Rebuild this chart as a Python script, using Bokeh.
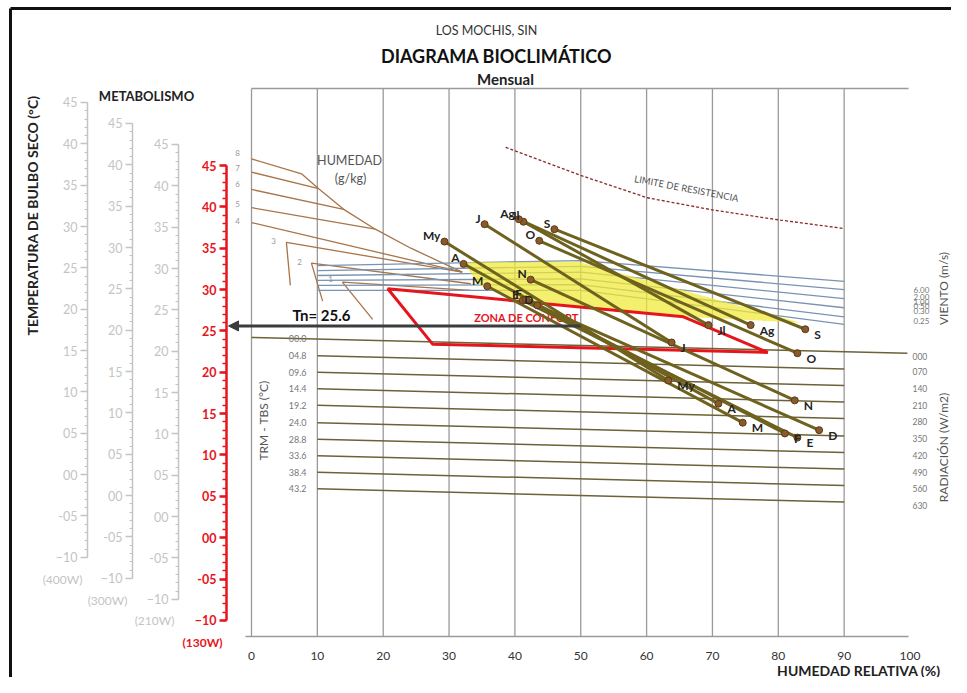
import numpy as np
from bokeh.plotting import figure
from bokeh.models import Range1d, LinearAxis, FixedTicker, Arrow, NormalHead
from bokeh.core.properties import value
from bokeh.embed import file_html
from bokeh.resources import INLINE

FONT = "Lato"

# ---------------- data ----------------
months = ["E", "F", "M", "A", "My", "J", "Jl", "Ag", "S", "O", "N", "D"]
hr_min = [41.2, 41.7, 35.8, 32.2, 29.3, 35.4, 41.3, 40.6, 46.0, 43.7, 42.4, 43.4]
t_max = [28.7, 28.8, 30.4, 33.1, 35.8, 37.9, 38.2, 38.5, 37.3, 35.9, 31.2, 28.1]
hr_max = [82.9, 81.0, 74.6, 70.9, 63.3, 63.8, 69.4, 75.8, 84.1, 82.9, 82.5, 86.2]
t_min = [12.1, 12.6, 13.9, 16.2, 19.0, 23.6, 25.7, 25.7, 25.2, 22.3, 16.6, 13.0]

tn = 25.6
tn_arrow_from_hr = 50.0

temp_ticks = list(range(-10, 50, 5))
temp_minor = list(range(-10, 46))
metab_labels = ["(400W)", "(300W)", "(210W)", "(130W)"]
rh_ticks = list(range(0, 110, 10))

comfort_hr = [20.7, 65.6, 78.4, 27.5]
comfort_t = [30.1, 26.7, 22.4, 23.4]

wind_zone_hr = [32.2, 49.5, 83.4, 65.6, 53.0, 39.3, 34.5]
wind_zone_t = [33.3, 33.4, 26.0, 26.7, 27.7, 28.9, 30.6]

limit_hr = [38.6, 50.0, 60.1, 70.2, 80.3, 89.8]
limit_t = [47.2, 43.8, 41.1, 39.6, 38.4, 37.4]

trm_labels = ["00.0", "04.8", "09.6", "14.4", "19.2", "24.0", "28.8", "33.6", "38.4", "43.2"]
rad_labels = ["000", "070", "140", "210", "280", "350", "420", "490", "560", "630"]
rad_hr_start = [0, 10, 10, 10, 10, 10, 10, 10, 10, 10]
rad_hr_end = [99.6, 90, 90, 90, 90, 90, 90, 90, 90, 90]
rad_t_start = [24.2, 22.0, 20.0, 18.0, 16.0, 13.9, 11.9, 9.9, 7.9, 5.9]
rad_t_end = [22.3, 20.4, 18.4, 16.4, 14.4, 12.3, 10.3, 8.3, 6.3, 4.3]

wind_labels = ["6.00", "2.00", "1.00", "0.50", "0.30", "0.25"]
wind_hr = [10, 50, 90]
wind_t = [
    [32.9, 33.5, 31.0],
    [32.3, 32.8, 30.0],
    [31.7, 32.1, 28.9],
    [31.1, 31.3, 27.8],
    [30.5, 30.6, 26.7],
    [29.9, 29.9, 25.8],
]

humid_labels = ["8", "7", "6", "5", "4", "3", "2", "1"]
humid_hr = [
    [0, 7.6, 10.2, 14.0, 18.8, 24.2, 32.0],
    [0, 10.2],
    [0, 14.0],
    [0, 18.8],
    [0, 32.0],
    [5.9, 5.3, 32.0],
    [10.8, 9.1, 33.3],
    [18.4, 13.8, 33.3],
]
humid_t = [
    [45.8, 44.0, 42.2, 39.7, 37.3, 35.0, 32.1],
    [44.2, 42.2],
    [42.1, 39.7],
    [39.9, 37.3],
    [38.1, 32.1],
    [30.5, 35.7, 32.1],
    [28.6, 33.2, 30.7],
    [26.4, 30.9, 29.9],
]

# ---------------- layout helpers (picture pixel -> chart coords) ----------------
def HX(px):
    return (px - 251) / 6.585


def TY(py):
    return 45 - (py - 165) / 8.27


W, H = 951, 677
STEP = 2.54  # vertical shift between metabolism scales (deg C)

p = figure(width=W, height=H, output_backend="svg", toolbar_location=None,
           x_range=Range1d(HX(0), HX(W)), y_range=Range1d(TY(H), TY(0)),
           x_axis_location=None, y_axis_location=None, min_border=0)
p.grid.visible = False
p.outline_line_color = None
p.background_fill_color = "white"

for k, nm in enumerate(["m400", "m300", "m210"]):
    shift = STEP * (3 - k)
    p.extra_y_ranges[nm] = Range1d(TY(H) - shift, TY(0) - shift)

# frame border (left and top sides)
p.segment(x0=[HX(10), HX(10)], y0=[TY(8), TY(8)], x1=[HX(10), HX(W)], y1=[TY(H), TY(8)],
          line_color="#111111", line_width=3)

# ---------------- grid frame ----------------
t_top, t_bot = TY(88), TY(636)
gx = list(range(0, 100, 10))
p.segment(x0=gx, y0=[t_bot] * len(gx), x1=gx, y1=[t_top] * len(gx), line_color="#9a9a9a", line_width=1.3)
p.segment(x0=[0], y0=[t_top], x1=[HX(908)], y1=[t_top], line_color="#9a9a9a", line_width=1.3)
p.segment(x0=[HX(245)], y0=[t_bot], x1=[HX(908)], y1=[t_bot], line_color="#9a9a9a", line_width=1.3)

# ---------------- radiation lines ----------------
p.segment(x0=rad_hr_start, y0=rad_t_start, x1=rad_hr_end, y1=rad_t_end, line_color="#6b6238", line_width=1.5)
lab_x = HX(306)
lab_y = [ts + (te - ts) * (lab_x - hs) / (he - hs) if hs < lab_x else ts
         for hs, he, ts, te in zip(rad_hr_start, rad_hr_end, rad_t_start, rad_t_end)]
p.text(x=[lab_x] * len(trm_labels), y=lab_y, text=trm_labels, text_font=value(FONT),
       text_font_size="9px", text_color="#777777", text_align="right", text_baseline="middle")
p.text(x=[HX(912)] * len(rad_labels), y=rad_t_end, text=rad_labels, text_font=value(FONT),
       text_font_size="8.5px", text_color="#777777", text_align="left", text_baseline="middle", y_offset=3)

# ---------------- humidity lines ----------------
p.multi_line(xs=humid_hr, ys=humid_t, line_color="#a87448", line_width=1.3)
humid_lab_px = [(237, 152), (237, 167), (237, 183), (237, 203), (237, 220), (273, 240), (299, 261), (330, 278)]
p.text(x=[HX(a) for a, b in humid_lab_px], y=[TY(b) for a, b in humid_lab_px], text=humid_labels,
       text_font=value(FONT), text_font_size="8px", text_color="#999999", text_align="center", text_baseline="middle")

# ---------------- wind lines & zone ----------------
p.multi_line(xs=[wind_hr] * len(wind_t), ys=wind_t, line_color="#7893b3", line_width=1.3)
p.patch(x=wind_zone_hr, y=wind_zone_t, fill_color="#f1e936", fill_alpha=0.72, line_color=None)
wind_lab_py = [289, 296, 301, 305, 310, 320]
p.text(x=[HX(913)] * len(wind_labels), y=[TY(v) for v in wind_lab_py], text=wind_labels,
       text_font=value(FONT), text_font_size="8px", text_color="#777777", text_align="left", text_baseline="middle")

# ---------------- comfort zone ----------------
p.patch(x=comfort_hr, y=comfort_t, fill_color=None, line_color="#e8141c", line_width=3)
p.text(x=[HX(526)], y=[TY(317)], text=["ZONA DE CONFORT"], text_font=value(FONT), text_font_size="11px",
       text_font_style="bold", text_color="#e8141c", text_align="center", text_baseline="middle")

# ---------------- limite de resistencia ----------------
p.line(limit_hr, limit_t, line_color="#8b2a2a", line_width=1.3, line_dash="3 2")
p.text(x=[HX(686)], y=[TY(188)], text=["LIMITE DE RESISTENCIA"], text_font=value(FONT), text_font_size="9.5px",
       text_color="#555555", text_align="center", text_baseline="middle", angle=-0.19)

# ---------------- Tn arrow ----------------
p.add_layout(Arrow(end=NormalHead(size=10, fill_color="#3c3c3c", line_color="#3c3c3c"),
                   x_start=tn_arrow_from_hr, y_start=tn, x_end=HX(228), y_end=tn,
                   line_color="#3c3c3c", line_width=3))
p.text(x=[HX(292)], y=[TY(314)], text=[f"Tn= {tn}"], text_font=value(FONT), text_font_size="15px",
       text_font_style="bold", text_color="#111111", text_align="left", text_baseline="middle")

# ---------------- monthly lines ----------------
p.segment(x0=hr_min, y0=t_max, x1=hr_max, y1=t_min, line_color="#6f621e", line_width=3)
p.scatter(x=hr_min + hr_max, y=t_max + t_min, size=7, fill_color="#8b5a2b", line_color="#5a3a18")
p.text(x=hr_min, y=t_max, text=months, text_font=value(FONT), text_font_size="12px", text_font_style="bold",
       text_color="#222222", text_align="right", text_baseline="middle", x_offset=-4, y_offset=-6)
p.text(x=hr_max, y=t_min, text=months, text_font=value(FONT), text_font_size="12px", text_font_style="bold",
       text_color="#222222", text_align="left", text_baseline="middle", x_offset=9, y_offset=5)

# ---------------- temperature / metabolism axes ----------------
axes_spec = [("m400", HX(87), "#c4c4c4", False),
             ("m300", HX(132), "#c4c4c4", False),
             ("m210", HX(178), "#c4c4c4", False),
             ("default", HX(226), "#e8141c", True)]
for nm, xloc, col, main in axes_spec:
    ax = LinearAxis(y_range_name=nm, fixed_location=xloc, bounds=(-10, 45),
                    ticker=FixedTicker(ticks=temp_ticks, minor_ticks=temp_minor),
                    major_label_overrides={5: "05", 0: "00", -5: "-05"})
    ax.axis_line_color = col
    ax.axis_line_width = 2.5 if main else 1.5
    ax.major_tick_line_color = col
    ax.major_tick_line_width = 2.5 if main else 1.5
    ax.major_tick_out = 7
    ax.major_tick_in = 0
    ax.minor_tick_line_color = col
    ax.minor_tick_line_width = 1.5 if main else 1
    ax.minor_tick_out = 4 if main else 3
    ax.minor_tick_in = 0
    ax.major_label_text_color = col
    ax.major_label_text_font = FONT
    ax.major_label_text_font_size = "12.5px"
    ax.major_label_text_font_style = "bold" if main else "normal"
    ax.major_label_standoff = 3
    p.add_layout(ax, "left")

metab_px = [(62, 579), (107, 600), (154, 620), (202, 642)]
p.text(x=[HX(a) for a, b in metab_px[:3]], y=[TY(b) for a, b in metab_px[:3]], text=metab_labels[:3],
       text_font=value(FONT), text_font_size="12px", text_color="#c4c4c4", text_align="center", text_baseline="middle")
p.text(x=[HX(metab_px[3][0])], y=[TY(metab_px[3][1])], text=metab_labels[3:], text_font=value(FONT),
       text_font_size="12px", text_font_style="bold", text_color="#e8141c", text_align="center", text_baseline="middle")

# ---------------- relative humidity axis ----------------
xax = LinearAxis(fixed_location=t_bot, bounds=(0, 100), ticker=FixedTicker(ticks=rh_ticks))
xax.axis_line_color = None
xax.major_tick_line_color = None
xax.minor_tick_line_color = None
xax.major_label_text_font = FONT
xax.major_label_text_font_size = "12px"
xax.major_label_text_color = "#333333"
xax.major_label_standoff = 9
p.add_layout(xax, "below")

# ---------------- titles & texts ----------------
def label(px, py, txt, size, color="#333333", bold=False, align="center", angle=0.0):
    p.text(x=[HX(px)], y=[TY(py)], text=[txt], text_font=value(FONT), text_font_size=f"{size}px",
           text_color=color, text_font_style="bold" if bold else "normal", text_align=align,
           text_baseline="middle", angle=angle)


label(486, 30, "LOS MOCHIS, SIN", 12.5)
label(496, 55, "DIAGRAMA BIOCLIMÁTICO", 18, "#111111", True)
label(505, 78, "Mensual", 15, "#222222", True)
label(146, 95, "METABOLISMO", 13, "#222222", True)
label(32, 215, "TEMPERATURA DE BULBO SECO (°C)", 14, "#222222", True, angle=np.pi / 2)
label(940, 669.5, "HUMEDAD RELATIVA (%)", 14, "#222222", True, align="right")
label(349, 160, "HUMEDAD", 12.5, "#555555")
label(350, 178, "(g/kg)", 12.5, "#555555")
label(263, 420, "TRM - TBS (°C)", 12, "#555555", angle=np.pi / 2)
label(943, 288, "VIENTO (m/s)", 12, "#555555", angle=np.pi / 2)
label(943, 447, "RADIACIÓN (W/m2)", 12, "#555555", angle=np.pi / 2)

open("out.html", "w").write(file_html(p, INLINE))
